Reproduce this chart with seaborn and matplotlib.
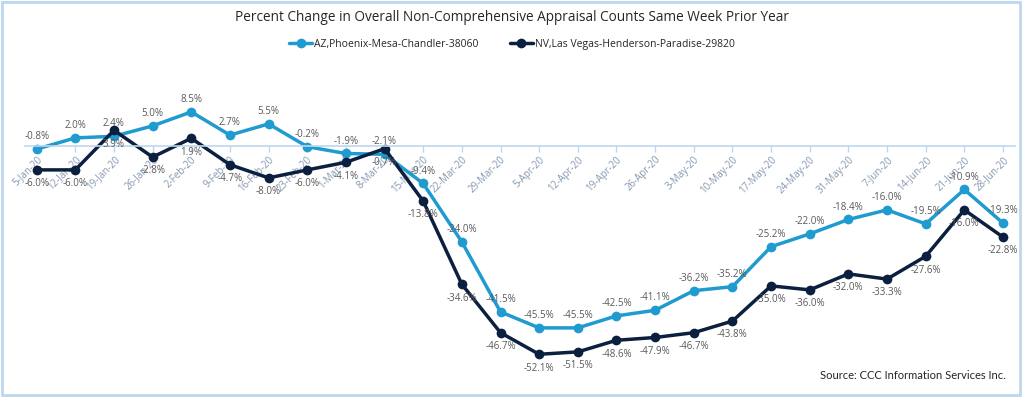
import pandas as pd
import seaborn as sns
import matplotlib.pyplot as plt
from matplotlib.patches import Rectangle

# 1. Data
weeks = ['5-Jan-20', '12-Jan-20', '19-Jan-20', '26-Jan-20', '2-Feb-20', '9-Feb-20',
         '16-Feb-20', '23-Feb-20', '1-Mar-20', '8-Mar-20', '15-Mar-20', '22-Mar-20',
         '29-Mar-20', '5-Apr-20', '12-Apr-20', '19-Apr-20', '26-Apr-20', '3-May-20',
         '10-May-20', '17-May-20', '24-May-20', '31-May-20', '7-Jun-20', '14-Jun-20',
         '21-Jun-20', '28-Jun-20']

az_name = 'AZ,Phoenix-Mesa-Chandler-38060'
nv_name = 'NV,Las Vegas-Henderson-Paradise-29820'

az_values = [-0.8, 2.0, 2.4, 5.0, 8.5, 2.7, 5.5, -0.2, -1.9, -2.1, -9.4, -24.0,
             -41.5, -45.5, -45.5, -42.5, -41.1, -36.2, -35.2, -25.2, -22.0, -18.4,
             -16.0, -19.5, -10.9, -19.3]
nv_values = [-6.0, -6.0, 3.9, -2.8, 1.9, -4.7, -8.0, -6.0, -4.1, -0.7, -13.8, -34.6,
             -46.7, -52.1, -51.5, -48.6, -47.9, -46.7, -43.8, -35.0, -36.0, -32.0,
             -33.3, -27.6, -16.0, -22.8]

az_color = '#1F9BD0'
nv_color = '#0B1F3F'

# 2. Long-form table for seaborn
df = pd.DataFrame({
    'idx': list(range(len(weeks))) * 2,
    'pct': az_values + nv_values,
    'series': [az_name] * len(weeks) + [nv_name] * len(weeks),
})

sns.set_theme(style='white')
plt.rcParams['font.family'] = ['Open Sans', 'DejaVu Sans']

fig = plt.figure(figsize=(10.24, 3.97), dpi=100)
ax = fig.add_axes([0.0245, 0.028, 0.9663, 0.806])

sns.lineplot(data=df, x='idx', y='pct', hue='series',
             palette={az_name: az_color, nv_name: nv_color},
             marker='o', markersize=7, markeredgewidth=0, linewidth=2.5, ax=ax)

# 3. Data labels: AZ above the points, NV below
for i, v in enumerate(az_values):
    ax.annotate(f'{v:.1f}%', (i, v), xytext=(0, 5), textcoords='offset points',
                ha='center', va='bottom', fontsize=7, color='#595959')
for i, v in enumerate(nv_values):
    ax.annotate(f'{v:.1f}%', (i, v), xytext=(0, -6), textcoords='offset points',
                ha='center', va='top', fontsize=7, color='#595959')

# 4. Axes styling: category axis sits on the zero line
# (move the spine first, it resets the ticks)
for side in ['top', 'right', 'left']:
    ax.spines[side].set_visible(False)
ax.spines['bottom'].set_position(('data', 0))
ax.spines['bottom'].set_color('#BDD7EE')
ax.spines['bottom'].set_linewidth(1.2)

ax.set_xlim(-0.3, len(weeks) - 0.7)
ax.set_ylim(-60, 20)
ax.set_xticks(range(len(weeks)))
ax.set_xticklabels(weeks, rotation=45, ha='right', rotation_mode='anchor',
                   fontsize=7, color='#8497B0')
ax.set_yticks([])
ax.set_xlabel('')
ax.set_ylabel('')
ax.tick_params(axis='x', bottom=True, length=4, width=1, color='#BDD7EE', pad=2)
ax.set_facecolor('none')

# 5. Legend, title, source and frame
handles, labels = ax.get_legend_handles_labels()
ax.legend(handles, labels, loc='center', bbox_to_anchor=(0.5, 0.889),
          bbox_transform=fig.transFigure, ncol=2, frameon=False, fontsize=7.5,
          handlelength=2.2, handletextpad=0.2, columnspacing=3.0)

fig.text(0.5, 0.955, 'Percent Change in Overall Non-Comprehensive Appraisal Counts Same Week Prior Year',
         ha='center', va='center', fontsize=9.8, color='#262626')
fig.text(0.982, 0.055, 'Source: CCC Information Services Inc.', ha='right', va='center',
         fontsize=8, color='#262626', family=['Lato', 'DejaVu Sans'])

fig.patches.append(Rectangle((0.002, 0.004), 0.994, 0.992, transform=fig.transFigure,
                             fill=False, edgecolor='#BDD7EE', linewidth=2))

fig.savefig('out.png', dpi=100, facecolor='white')
